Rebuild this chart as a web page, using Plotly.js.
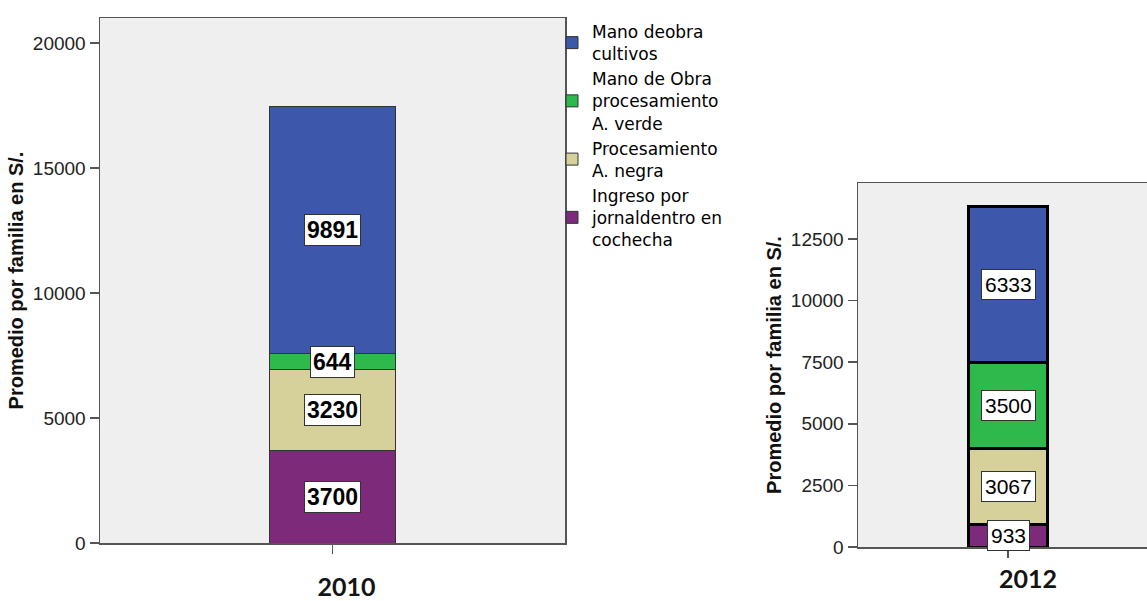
<!DOCTYPE html>
<html>
<head>
<meta charset="utf-8">
<script src="https://cdn.plot.ly/plotly-3.0.1.min.js"></script>
<style>html,body{margin:0;padding:0;background:#fff;overflow:hidden;}#chart{width:1147px;height:601px;}</style>
</head>
<body>
<div id="chart"></div>
<script>
// ---- data ----
const years = ['2010', '2012'];
const seriesNames = [
  'Ingreso por<br>jornaldentro en<br>cochecha',
  'Procesamiento<br>A. negra',
  'Mano de Obra<br>procesamiento<br>A. verde',
  'Mano deobra<br>cultivos'
];
const ingresoJornal = [3700, 933];
const procesamientoNegra = [3230, 3067];
const manoObraVerde = [644, 3500];
const manoObraCultivos = [9891, 6333];
const yTitle = 'Promedio por familia en S/.';

// ---- styles ----
const colors = ['#7d2a7b', '#d6d09b', '#2fb84b', '#3d57aa'];
const seriesValues = [ingresoJornal, procesamientoNegra, manoObraVerde, manoObraCultivos];

const traces = [];
const annotations = [];
years.forEach(function (yr, p) {
  const xa = p === 0 ? 'x' : 'x2';
  const ya = p === 0 ? 'y' : 'y2';
  let cum = 0;
  seriesValues.forEach(function (vals, s) {
    traces.push({
      type: 'bar',
      x: [yr],
      y: [vals[p]],
      name: seriesNames[s],
      xaxis: xa,
      yaxis: ya,
      width: p === 0 ? 0.269 : 0.265,
      marker: {
        color: colors[s],
        line: {color: p === 0 ? '#333333' : '#000000', width: p === 0 ? 1 : 3}
      },
      showlegend: p === 0,
      legendgroup: 's' + s,
      hoverinfo: 'skip'
    });
    annotations.push({
      xref: xa, yref: ya,
      x: 0, y: cum + vals[p] / 2,
      text: String(vals[p]),
      showarrow: false,
      bgcolor: '#ffffff',
      bordercolor: '#333333',
      borderwidth: 1,
      borderpad: p === 0 ? 2 : 3,
      font: {family: 'Liberation Sans, Arial, sans-serif', size: p === 0 ? 23 : 21,
             color: '#000', weight: p === 0 ? 'bold' : 'normal'}
    });
    cum += vals[p];
  });
});

const tickFont = {family: 'Liberation Sans, Arial, sans-serif', size: 19, color: '#222'};
const catFont = {family: 'Lato, sans-serif', size: 25, color: '#141414', weight: 'bold'};
const titleFont = {family: 'Liberation Sans, Arial, sans-serif', size: 20, color: '#111', weight: 'bold'};

const layout = {
  width: 1147, height: 601,
  margin: {l: 0, r: 0, t: 0, b: 0},
  paper_bgcolor: '#ffffff',
  plot_bgcolor: '#efefef',
  barmode: 'stack',
  showlegend: true,
  legend: {
    x: 552 / 1147, xanchor: 'left',
    y: 1 - 14 / 601, yanchor: 'top',
    traceorder: 'reversed',
    bgcolor: 'rgba(0,0,0,0)',
    font: {family: 'DejaVu Sans, sans-serif', size: 17, color: '#000'},
    tracegroupgap: 0
  },
  xaxis: {
    domain: [100 / 1147, 565 / 1147],
    type: 'category',
    range: [-0.5, 0.5],
    showline: true, linecolor: '#555', linewidth: 1.5, mirror: true,
    ticks: 'outside', ticklen: 9, tickcolor: '#555', tickwidth: 1.5,
    tickfont: catFont,
    ticklabelstandoff: 12,
    ticklabelshift: 14,
    showgrid: false, zeroline: false, fixedrange: true,
    anchor: 'y'
  },
  yaxis: {
    domain: [58 / 601, 583 / 601],
    range: [0, 21000],
    tickvals: [0, 5000, 10000, 15000, 20000],
    tickformat: 'd',
    showline: true, linecolor: '#555', linewidth: 1.5, mirror: true,
    ticks: 'outside', ticklen: 9, tickcolor: '#555', tickwidth: 1.5,
    tickfont: tickFont,
    showgrid: false, zeroline: false, fixedrange: true,
    automargin: false,
    title: {text: yTitle, font: titleFont, standoff: 4},
    anchor: 'x'
  },
  xaxis2: {
    domain: [858 / 1147, 1],
    type: 'category',
    range: [-0.5, 0.4633],
    showline: true, linecolor: '#555', linewidth: 1.5, mirror: true,
    ticks: 'outside', ticklen: 9, tickcolor: '#555', tickwidth: 1.5,
    tickfont: catFont,
    ticklabelstandoff: 0,
    ticklabelshift: 20,
    showgrid: false, zeroline: false, fixedrange: true,
    anchor: 'y2'
  },
  yaxis2: {
    domain: [54 / 601, 418 / 601],
    range: [0, 14773],
    tickvals: [0, 2500, 5000, 7500, 10000, 12500],
    tickformat: 'd',
    showline: true, linecolor: '#555', linewidth: 1.5, mirror: false,
    ticks: 'outside', ticklen: 9, tickcolor: '#555', tickwidth: 1.5,
    tickfont: tickFont,
    showgrid: false, zeroline: false, fixedrange: true,
    automargin: false,
    title: {text: yTitle, font: titleFont, standoff: 4},
    anchor: 'x2'
  },
  annotations: annotations
};

Plotly.newPlot('chart', traces, layout, {staticPlot: true, displayModeBar: false});
</script>
</body>
</html>
